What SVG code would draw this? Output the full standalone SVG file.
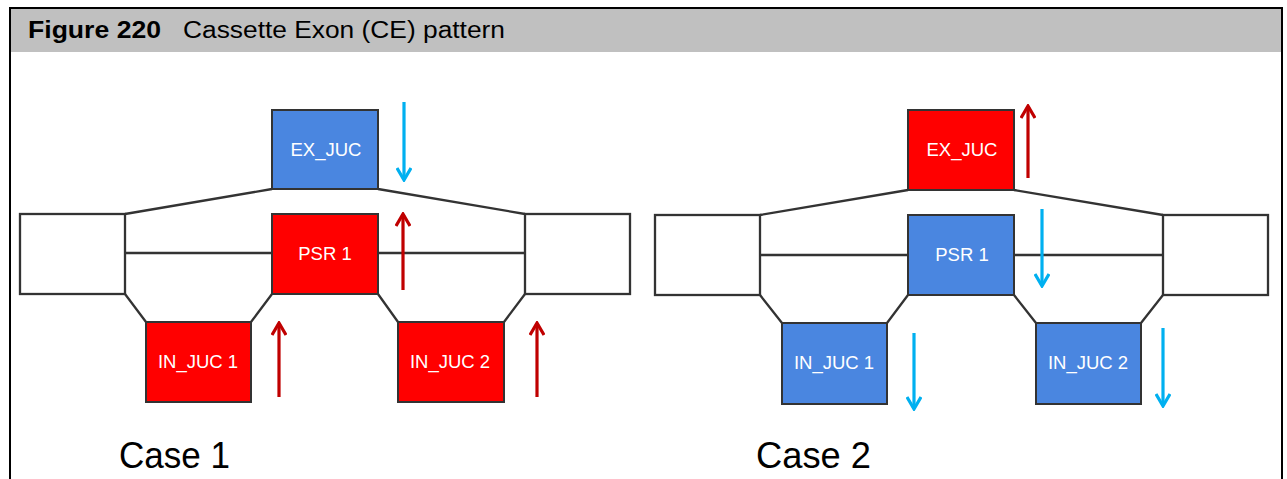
<svg xmlns="http://www.w3.org/2000/svg" width="1287" height="479" viewBox="0 0 1287 479">
<defs>
<style>
.frame{fill:none;stroke:#000;stroke-width:2}
.ol{fill:#fff;stroke:#333;stroke-width:2.3}
.ln{fill:none;stroke:#333;stroke-width:2.3}
.red{fill:#ff0000;stroke:#333;stroke-width:2}
.blue{fill:#4a86e0;stroke:#333;stroke-width:2}
.lbl{font-family:"Liberation Sans",Arial,sans-serif;font-size:18.5px;fill:#fff;text-anchor:middle}
.case{font-family:"Liberation Sans",Arial,sans-serif;font-size:37px;fill:#000}
.ar{fill:none;stroke-width:3.2}
.up{stroke:#c00000}
.dn{stroke:#00b0f0}
</style>
<marker id="hr" viewBox="0 0 16 16" refX="14" refY="8" markerWidth="16" markerHeight="16" markerUnits="userSpaceOnUse" orient="auto">
<path d="M2,1 L14,8 L2,15" fill="none" stroke="#c00000" stroke-width="3.2"/>
</marker>
<marker id="hb" viewBox="0 0 16 16" refX="14" refY="8" markerWidth="16" markerHeight="16" markerUnits="userSpaceOnUse" orient="auto">
<path d="M2,1 L14,8 L2,15" fill="none" stroke="#00b0f0" stroke-width="3.2"/>
</marker>
</defs>
<rect x="0" y="0" width="1287" height="479" fill="#fff"/>
<g id="header">
<rect x="10" y="8" width="1272" height="44" fill="#c0c0c0"/>
<path class="frame" d="M10,479 V8 H1282 V479"/>
<text x="28" y="38" font-family="'Liberation Sans',Arial,sans-serif" font-size="23" font-weight="bold" textLength="133" lengthAdjust="spacingAndGlyphs">Figure 220</text>
<text x="183" y="38" font-family="'Liberation Sans',Arial,sans-serif" font-size="23" textLength="322" lengthAdjust="spacingAndGlyphs">Cassette Exon (CE) pattern</text>
</g>
<g id="connectors">
<rect class="ol" x="20" y="214" width="105" height="80"/>
<rect class="ol" x="525" y="214" width="105" height="80"/>
<path class="ln" d="M125,214 L272,189 M378,189 L525,214 M125,253 H272 M378,253 H525 M125,294 L146,322 M251,322 L272,294 M378,294 L398,322 M504,322 L525,294"/>
<rect class="ol" x="655" y="215" width="105" height="80"/>
<rect class="ol" x="1163" y="215" width="105" height="80"/>
<path class="ln" d="M760,215 L908,190 M1014,190 L1163,215 M760,255 H908 M1014,255 H1163 M760,295 L782,323 M887,323 L908,295 M1014,295 L1036,323 M1141,323 L1163,295"/>
<line class="ar dn" x1="404" y1="102" x2="404" y2="180" marker-end="url(#hb)"/>
<line class="ar up" x1="403" y1="290" x2="403" y2="214" marker-end="url(#hr)"/>
<line class="ar up" x1="279" y1="397" x2="279" y2="323" marker-end="url(#hr)"/>
<line class="ar up" x1="537" y1="397" x2="537" y2="323" marker-end="url(#hr)"/>
<line class="ar up" x1="1028" y1="178" x2="1028" y2="106" marker-end="url(#hr)"/>
<line class="ar dn" x1="1042" y1="209" x2="1042" y2="286" marker-end="url(#hb)"/>
<line class="ar dn" x1="914" y1="333" x2="914" y2="409" marker-end="url(#hb)"/>
<line class="ar dn" x1="1163" y1="328" x2="1163" y2="406" marker-end="url(#hb)"/>
</g>
<g id="c1-ex"><rect class="blue" x="272" y="110" width="106" height="79"/><text class="lbl" x="326" y="156">EX_JUC</text></g>
<g id="c1-psr"><rect class="red" x="272" y="214" width="106" height="80"/><text class="lbl" x="325" y="260">PSR 1</text></g>
<g id="c1-in1"><rect class="red" x="146" y="322" width="105" height="80"/><text class="lbl" x="198" y="368">IN_JUC 1</text></g>
<g id="c1-in2"><rect class="red" x="398" y="322" width="106" height="80"/><text class="lbl" x="450" y="368">IN_JUC 2</text></g>
<g id="c2-ex"><rect class="red" x="908" y="110" width="106" height="80"/><text class="lbl" x="962" y="156">EX_JUC</text></g>
<g id="c2-psr"><rect class="blue" x="908" y="215" width="106" height="80"/><text class="lbl" x="962" y="261">PSR 1</text></g>
<g id="c2-in1"><rect class="blue" x="782" y="323" width="105" height="81"/><text class="lbl" x="834" y="369">IN_JUC 1</text></g>
<g id="c2-in2"><rect class="blue" x="1036" y="323" width="105" height="81"/><text class="lbl" x="1088" y="369">IN_JUC 2</text></g>
<text class="case" x="119" y="468" textLength="111" lengthAdjust="spacingAndGlyphs">Case 1</text>
<text class="case" x="756" y="468" textLength="115" lengthAdjust="spacingAndGlyphs">Case 2</text>
</svg>
